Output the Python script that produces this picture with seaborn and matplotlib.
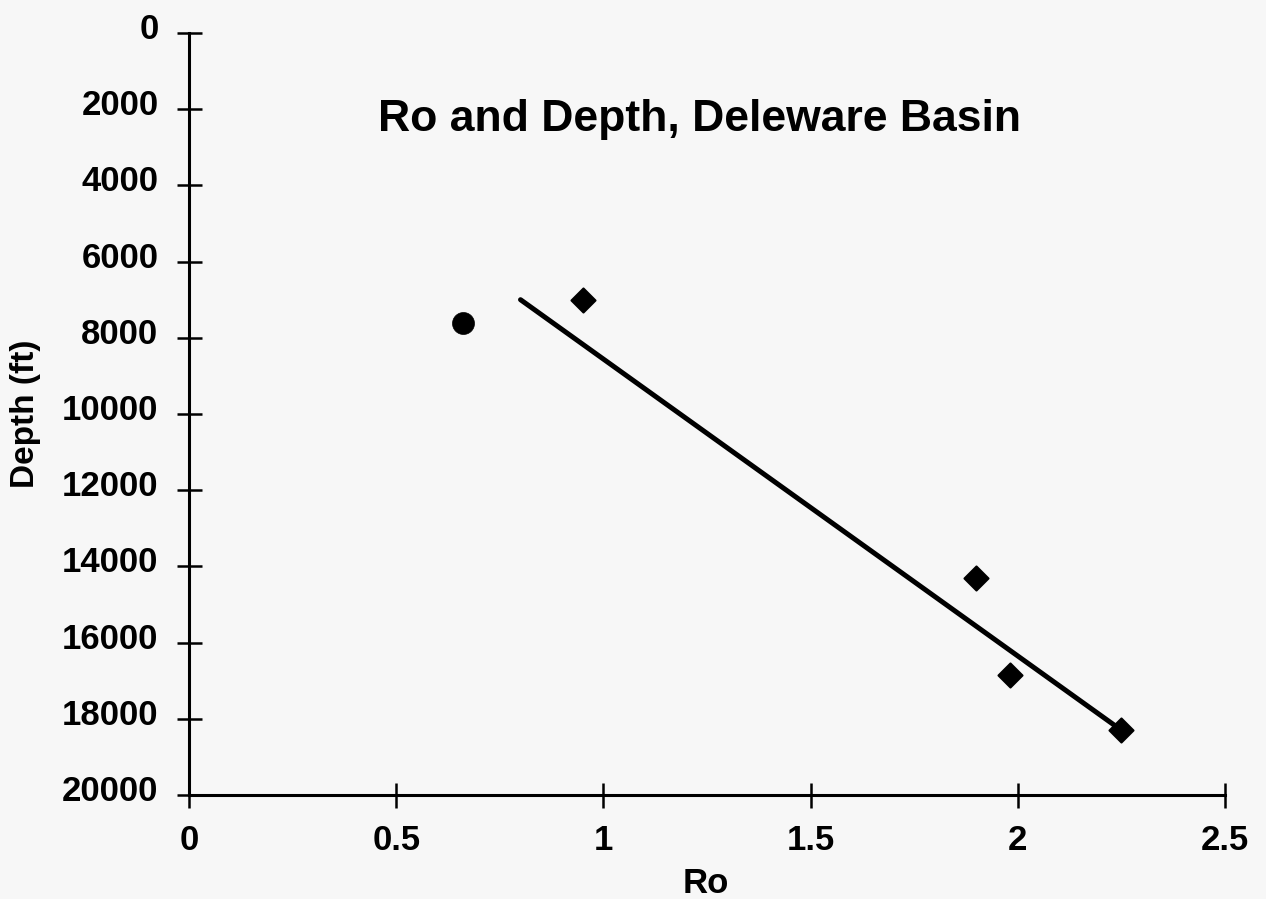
import matplotlib
matplotlib.use("Agg")
import matplotlib.pyplot as plt
import matplotlib.transforms as mtransforms
import seaborn as sns
import pandas as pd

# Vitrinite reflectance (Ro) against depth, Delaware Basin wells
circle_ro = [0.66]
circle_depth = [7600]

diamond_ro = [0.95, 1.90, 1.98, 2.25]
diamond_depth = [7000, 14300, 16850, 18300]

# Trend line end points
trend_ro = [0.80, 2.25]
trend_depth = [7000, 18300]

x_ticks = [0, 0.5, 1, 1.5, 2, 2.5]
x_tick_labels = ["0", "0.5", "1", "1.5", "2", "2.5"]
y_ticks = [0, 2000, 4000, 6000, 8000, 10000, 12000, 14000, 16000, 18000, 20000]

title = "Ro and Depth, Deleware Basin"
x_label = "Ro"
y_label = "Depth (ft)"

sns.set_theme(style="white")
plt.rcParams["font.family"] = ["Liberation Sans", "DejaVu Sans"]
plt.rcParams["font.weight"] = "bold"

bg = "#f7f7f7"
fig = plt.figure(figsize=(12.66, 8.99), dpi=100, facecolor=bg)
ax = fig.add_axes([189 / 1266, 1 - 795 / 899, 1036 / 1266, 762 / 899])
ax.set_facecolor(bg)

circles = pd.DataFrame({"ro": circle_ro, "depth": circle_depth})
diamonds = pd.DataFrame({"ro": diamond_ro, "depth": diamond_depth})
trend = pd.DataFrame({"ro": trend_ro, "depth": trend_depth})

sns.lineplot(data=trend, x="ro", y="depth", ax=ax, color="black",
             linewidth=3.6, solid_capstyle="round", zorder=2)
sns.scatterplot(data=circles, x="ro", y="depth", ax=ax, marker="o",
                s=250, color="black", edgecolor="black", linewidth=0.5, zorder=3)
sns.scatterplot(data=diamonds, x="ro", y="depth", ax=ax, marker="D",
                s=150, color="black", edgecolor="black", linewidth=1.5, zorder=3)

ax.set_xlim(0, 2.5)
ax.set_ylim(20000, 0)
ax.set_xticks(x_ticks)
ax.set_xticklabels(x_tick_labels)
ax.set_yticks(y_ticks)
ax.set_yticklabels([str(v) for v in y_ticks])

for side in ("top", "right"):
    ax.spines[side].set_visible(False)
for side in ("left", "bottom"):
    ax.spines[side].set_color("black")
    ax.spines[side].set_linewidth(2.2)

ax.tick_params(axis="both", which="major", bottom=True, left=True,
               direction="inout", length=18, width=1.8,
               color="black", labelsize=25, labelcolor="black", pad=12)
ax.tick_params(axis="y", pad=13)
for lbl in ax.get_xticklabels() + ax.get_yticklabels():
    lbl.set_fontweight("bold")

# Depth labels sit slightly above their tick marks
lift = mtransforms.ScaledTranslation(0, 7 / 100, fig.dpi_scale_trans)
for lbl in ax.get_yticklabels():
    lbl.set_transform(lbl.get_transform() + lift)

ax.set_xlabel(x_label, fontsize=25, fontweight="bold", color="black")
ax.set_ylabel(y_label, fontsize=24, fontweight="bold", color="black")
ax.xaxis.set_label_coords(0.499, -0.094)
ax.yaxis.set_label_coords(-0.143, 0.5)

ax.text(0.493, 0.887, title, transform=ax.transAxes, ha="center", va="center",
        fontsize=32, fontweight="bold", color="black")

fig.savefig("out.png", dpi=100, facecolor=bg)
